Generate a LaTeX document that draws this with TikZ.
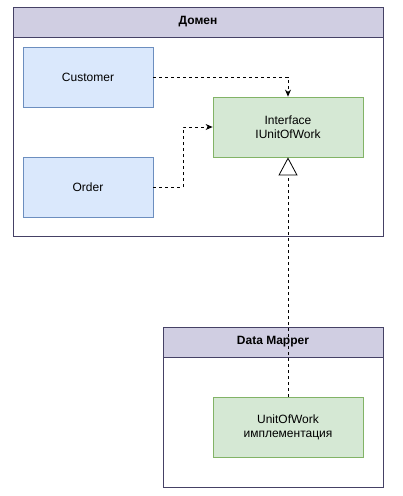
\documentclass[tikz,border=0pt]{standalone}
\usepackage{fontspec}
\setmainfont{Liberation Sans}
\usetikzlibrary{arrows.meta}
\definecolor{hdrfill}{HTML}{D0CEE2}
\definecolor{hdrline}{HTML}{56517E}
\definecolor{bluefill}{HTML}{DAE8FC}
\definecolor{blueline}{HTML}{6C8EBF}
\definecolor{greenfill}{HTML}{D5E8D4}
\definecolor{greenline}{HTML}{82B366}

\begin{document}
\begin{tikzpicture}[x=1pt,y=-1pt,font=\fontsize{12}{14}\selectfont,
    box/.style={draw=#1line,fill=#1fill,line width=0.8pt,minimum width=130pt,minimum height=60pt,inner sep=0pt,align=center},
    frame/.style={draw=hdrline!80!black,line width=0.8pt,inner sep=0pt},
    header/.style={frame,fill=hdrfill,minimum height=30pt,font=\fontsize{12}{14}\selectfont\bfseries},
    dep/.style={dashed,line width=0.8pt,-{Stealth[length=7pt,width=6pt]}}]
            \useasboundingbox (0,0) rectangle (403,496);
            % Domain package
            \node[frame,minimum width=370pt,minimum height=229pt](domain) at (198,121.5){};
            \node[header,minimum width=370pt](domainh) at (198,22){Домен};
            \node[box=blue](cust) at (88,77){Customer};
            \node[box=blue](order) at (88,187){Order};
            \node[box=green,minimum width=150pt](iface) at (288,127){Interface\\IUnitOfWork};

            % Data Mapper package
            \node[frame,minimum width=220pt,minimum height=160pt](mapper) at (273,407){};
            \node[header,minimum width=220pt](mapperh) at (273,342){Data Mapper};
            \node[box=green,minimum width=150pt](impl) at (288,427){UnitOfWork\\имплементация};

            \draw[dep] (cust.east) -| (iface.north);
            \draw[dep] (order.east) -- ++(30,0) |- (iface.west);
            \draw[dashed,line width=0.8pt,-{Triangle[open,fill=white,length=18pt,width=19pt]}] (impl.north) -- (iface.south);
\end{tikzpicture}
\end{document}
